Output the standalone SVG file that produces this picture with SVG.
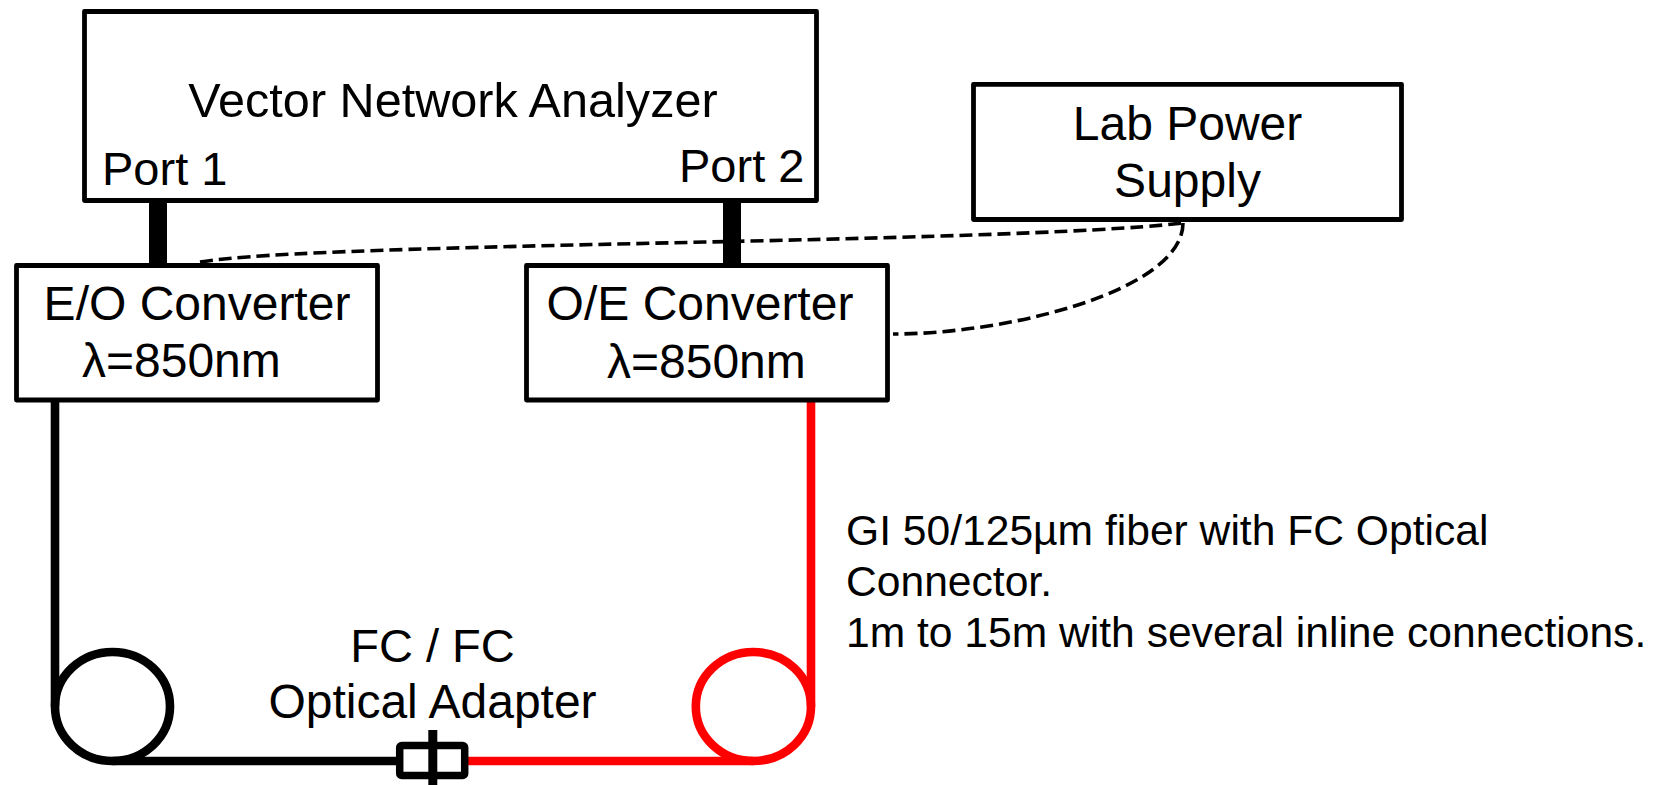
<svg xmlns="http://www.w3.org/2000/svg" width="1653" height="785" viewBox="0 0 1653 785">
<style>
  .box { fill: #ffffff; stroke: #000000; stroke-width: 4.8; stroke-linejoin: round; }
  .lbl { font-family: "Liberation Sans", Arial, sans-serif; font-size: 48px; fill: #000000; }
  .note { font-family: "Liberation Sans", Arial, sans-serif; font-size: 42.6px; fill: #000000; }
  .mid { text-anchor: middle; }
  .dash { fill: none; stroke: #000000; stroke-width: 3.6; stroke-dasharray: 13 6; }
  .port { stroke: #000000; stroke-width: 18; }
  .fib { fill: none; stroke: #000000; stroke-width: 8.6; }
  .fibr { fill: none; stroke: #ff0000; stroke-width: 8.6; }
</style>
<rect width="1653" height="785" fill="#ffffff"/>

<g id="connectors">
  <path class="dash" d="M200,262 C320,242 1000,244 1183,223"/>
  <path class="dash" d="M1183,223 C1183,290 1010,334 893,334"/>
  <line class="port" x1="158" y1="201" x2="158" y2="266"/>
  <line class="port" x1="732" y1="201" x2="732" y2="266"/>
  <path class="fib" d="M55,400 L55,706.5"/>
  <ellipse class="fib" cx="112.5" cy="706.5" rx="57.5" ry="54.5"/>
  <path class="fib" d="M112.5,761 L400,761"/>
  <path class="fibr" d="M811,400 L811,706.5"/>
  <ellipse class="fibr" cx="753.4" cy="706.5" rx="57.6" ry="54.5"/>
  <path class="fibr" d="M467,761 L753.4,761"/>
</g>

<g id="vna">
  <rect class="box" x="84.5" y="11.5" width="732" height="189"/>
  <text class="lbl mid" x="453" y="117" style="font-size:48.6px">Vector Network Analyzer</text>
  <text class="lbl" x="102" y="185" style="font-size:47px">Port 1</text>
  <text class="lbl" x="679" y="182" style="font-size:47px">Port 2</text>
</g>

<g id="eo-converter">
  <rect class="box" x="16.5" y="265.5" width="361" height="134.5"/>
  <text class="lbl mid" x="197" y="320">E/O Converter</text>
  <text class="lbl" x="82" y="377">λ=850nm</text>
</g>

<g id="oe-converter">
  <rect class="box" x="526.5" y="265.5" width="361" height="134.5"/>
  <text class="lbl mid" x="700" y="320">O/E Converter</text>
  <text class="lbl" x="607" y="378">λ=850nm</text>
</g>

<g id="power-supply">
  <rect class="box" x="973.5" y="84.3" width="428" height="135.2"/>
  <text class="lbl mid" x="1187.5" y="140">Lab Power</text>
  <text class="lbl mid" x="1187.5" y="197">Supply</text>
</g>

<g id="adapter">
  <rect x="399.7" y="745.5" width="65" height="30" rx="2" fill="#ffffff" stroke="#000000" stroke-width="7.5"/>
  <line x1="432.8" y1="730" x2="432.8" y2="785" stroke="#000000" stroke-width="9"/>
  <text class="lbl mid" x="432.5" y="661.7" style="font-size:47px">FC / FC</text>
  <text class="lbl mid" x="432.5" y="718.3">Optical Adapter</text>
</g>

<g id="fiber-note">
  <text class="note" x="846" y="545">GI 50/125µm fiber with FC Optical</text>
  <text class="note" x="846" y="596">Connector.</text>
  <text class="note" x="846" y="647">1m to 15m with several inline connections.</text>
</g>
</svg>
